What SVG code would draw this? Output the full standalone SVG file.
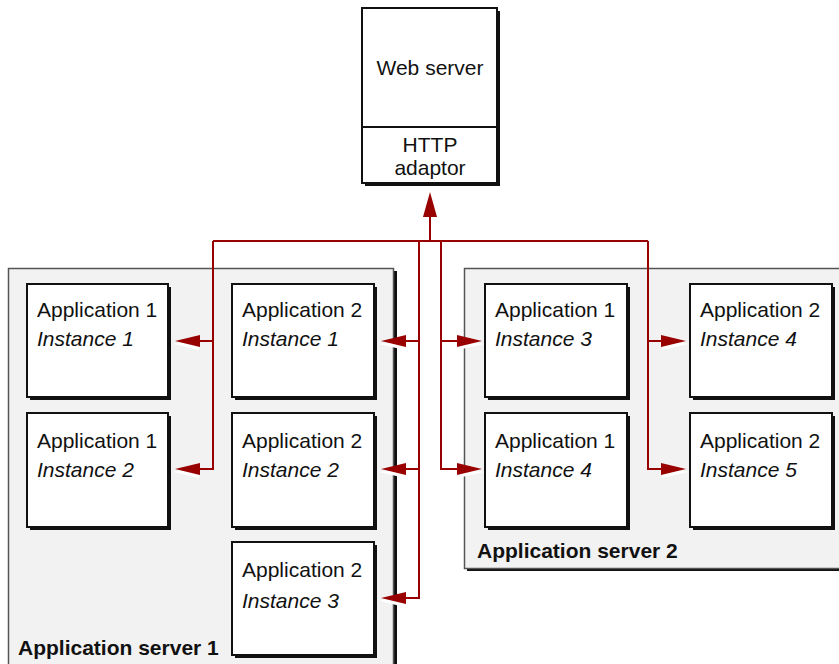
<svg xmlns="http://www.w3.org/2000/svg" xmlns:xlink="http://www.w3.org/1999/xlink" width="839" height="664" viewBox="0 0 839 664">
<style>
.t{font-family:"Liberation Sans",Arial,sans-serif;font-size:21px;fill:#111}
.i{font-style:italic}
.b{font-weight:bold}
.srv{fill:#f2f2f2;stroke:#555;stroke-width:1.5}
.sh{fill:#111}
.box{fill:#fff;stroke:#111;stroke-width:2}
.w{fill:none;stroke:#990000;stroke-width:2}
.h{fill:#990000}
.hs{fill:#fff}
</style>
<defs>
<g id="headR"><polygon class="hs" points="-24,-3 2,3 -24,9"/><polygon class="h" points="-25,-6 0,0 -25,6"/></g>
<g id="headL"><polygon class="hs" points="24,-3 -2,3 24,9"/><polygon class="h" points="25,-6 0,0 25,6"/></g>
</defs>
<rect width="839" height="664" fill="#fff"/>
<g id="appserver1">
<rect class="sh" x="11" y="271" width="386" height="410"/>
<rect class="srv" x="8.5" y="268.5" width="385" height="410"/>
<text class="t b" x="18" y="655">Application server 1</text>
</g>
<g id="appserver2">
<rect class="sh" x="467" y="271" width="400" height="300"/>
<rect class="srv" x="464.5" y="268.5" width="400" height="300"/>
<text class="t b" x="477" y="558">Application server 2</text>
</g>
<g id="webserver">
<rect class="sh" x="365" y="11" width="135" height="175"/>
<rect class="box" x="362" y="8" width="135" height="175"/>
<line x1="362" y1="127" x2="497" y2="127" stroke="#111" stroke-width="2"/>
<text class="t" x="430" y="75" text-anchor="middle">Web server</text>
<text class="t" x="430" y="152" text-anchor="middle">HTTP</text>
<text class="t" x="430" y="175" text-anchor="middle">adaptor</text>
</g>
<g id="a1i1">
<rect class="sh" x="30" y="287" width="141" height="113"/>
<rect class="box" x="27" y="284" width="141" height="113"/>
<text class="t" x="37" y="317">Application 1</text>
<text class="t i" x="37" y="346">Instance 1</text>
</g>
<g id="a2i1">
<rect class="sh" x="235" y="287" width="142" height="113"/>
<rect class="box" x="232" y="284" width="142" height="113"/>
<text class="t" x="242" y="317">Application 2</text>
<text class="t i" x="242" y="346">Instance 1</text>
</g>
<g id="a1i2">
<rect class="sh" x="30" y="416" width="141" height="114"/>
<rect class="box" x="27" y="413" width="141" height="114"/>
<text class="t" x="37" y="448">Application 1</text>
<text class="t i" x="37" y="477">Instance 2</text>
</g>
<g id="a2i2">
<rect class="sh" x="235" y="416" width="142" height="114"/>
<rect class="box" x="232" y="413" width="142" height="114"/>
<text class="t" x="242" y="448">Application 2</text>
<text class="t i" x="242" y="477">Instance 2</text>
</g>
<g id="a2i3">
<rect class="sh" x="235" y="545" width="142" height="113"/>
<rect class="box" x="232" y="542" width="142" height="113"/>
<text class="t" x="242" y="577">Application 2</text>
<text class="t i" x="242" y="608">Instance 3</text>
</g>
<g id="a1i3">
<rect class="sh" x="488" y="287" width="142" height="113"/>
<rect class="box" x="485" y="284" width="142" height="113"/>
<text class="t" x="495" y="317">Application 1</text>
<text class="t i" x="495" y="346">Instance 3</text>
</g>
<g id="a2i4">
<rect class="sh" x="693" y="287" width="142" height="113"/>
<rect class="box" x="690" y="284" width="142" height="113"/>
<text class="t" x="700" y="317">Application 2</text>
<text class="t i" x="700" y="346">Instance 4</text>
</g>
<g id="a1i4">
<rect class="sh" x="488" y="416" width="142" height="114"/>
<rect class="box" x="485" y="413" width="142" height="114"/>
<text class="t" x="495" y="448">Application 1</text>
<text class="t i" x="495" y="477">Instance 4</text>
</g>
<g id="a2i5">
<rect class="sh" x="693" y="416" width="142" height="114"/>
<rect class="box" x="690" y="413" width="142" height="114"/>
<text class="t" x="700" y="448">Application 2</text>
<text class="t i" x="700" y="477">Instance 5</text>
</g>
<g id="connectors">
<path class="w" d="M430,215 V241 M213,241 H648 M213,241 V469 H199 M213,341 H199 M419,241 V598 H405 M419,341 H405 M419,469 H405 M441,241 V469 H458 M441,341 H458 M648,241 V469 H662 M648,341 H662"/>
<polygon class="h" points="430,192 423,217 437,217"/>
<use xlink:href="#headL" x="175" y="341"/>
<use xlink:href="#headL" x="175" y="469"/>
<use xlink:href="#headL" x="381" y="341"/>
<use xlink:href="#headL" x="381" y="469"/>
<use xlink:href="#headL" x="381" y="598"/>
<use xlink:href="#headR" x="482" y="341"/>
<use xlink:href="#headR" x="482" y="469"/>
<use xlink:href="#headR" x="686" y="341"/>
<use xlink:href="#headR" x="686" y="469"/>
</g>
</svg>
